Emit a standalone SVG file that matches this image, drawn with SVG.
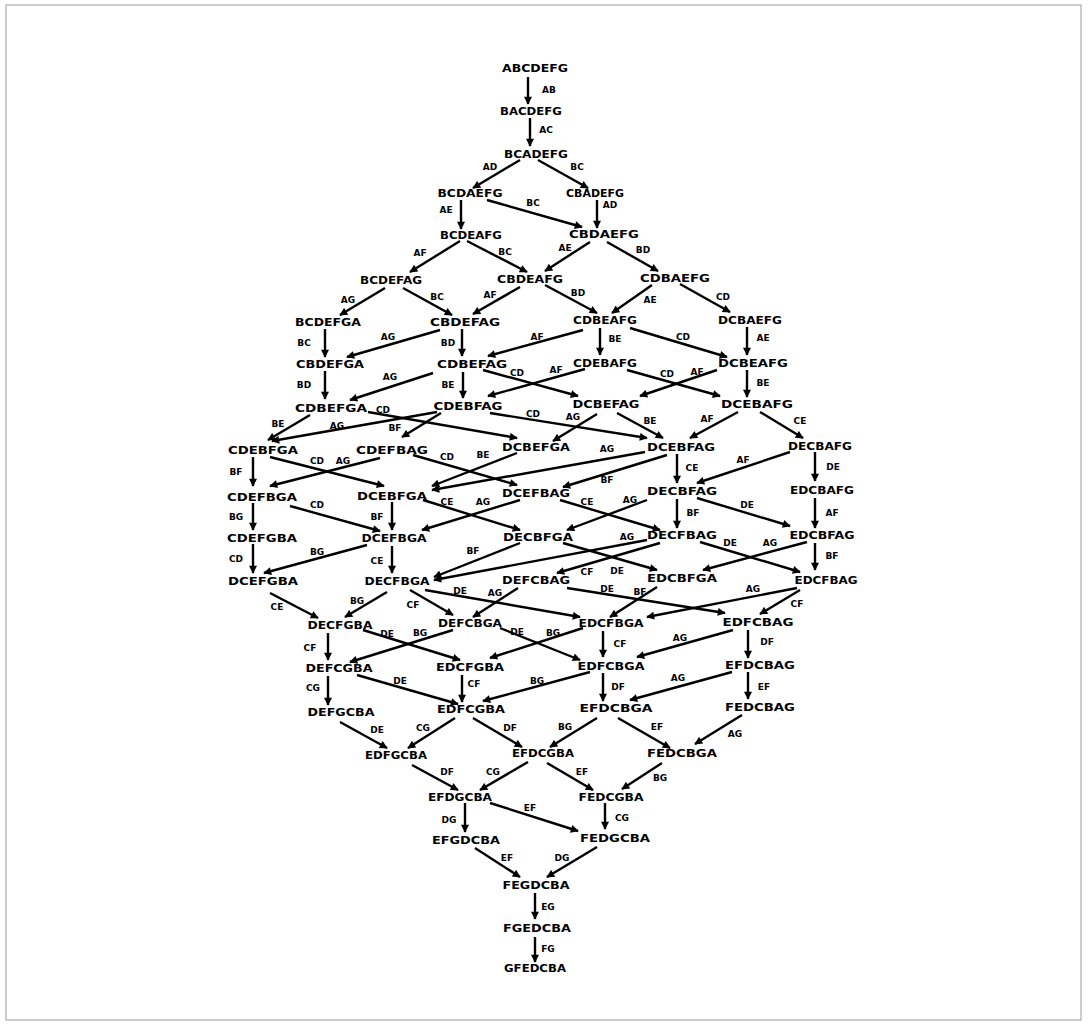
<svg xmlns="http://www.w3.org/2000/svg" width="1088" height="1026" viewBox="0 0 1088 1026">
<style>
.n text{font-family:"DejaVu Sans","Liberation Sans",sans-serif;font-weight:bold;font-size:11px;fill:#000;text-anchor:middle}
.e line{stroke:#000;stroke-width:2.4;marker-end:url(#ah)}
.e text{font-family:"DejaVu Sans","Liberation Sans",sans-serif;font-weight:bold;font-size:9px;fill:#000;text-anchor:middle}
</style>
<defs>
<marker id="ah" viewBox="0 0 10 10" refX="9" refY="5" markerWidth="10" markerHeight="8" markerUnits="userSpaceOnUse" orient="auto"><path d="M0,0 L10,5 L0,10 z" fill="#000"/></marker>
</defs>
<rect x="0" y="0" width="1088" height="1026" fill="#fff"/>
<rect x="6" y="5" width="1075" height="1015" fill="none" stroke="#999" stroke-width="1"/>
<g id="connectors" class="e">
<line x1="528" y1="77" x2="528" y2="104"/><text x="549" y="93">AB</text>
<line x1="530" y1="118" x2="530" y2="146"/><text x="546" y="133">AC</text>
<line x1="520" y1="160" x2="473" y2="188"/><text x="490" y="170">AD</text>
<line x1="538" y1="160" x2="588" y2="188"/><text x="577" y="170">BC</text>
<line x1="461" y1="200" x2="461" y2="229"/><text x="446" y="213">AE</text>
<line x1="487" y1="200" x2="582" y2="227"/><text x="533" y="206">BC</text>
<line x1="597" y1="200" x2="597" y2="228"/><text x="610" y="208">AD</text>
<line x1="460" y1="241" x2="410" y2="272"/><text x="420" y="256">AF</text>
<line x1="467" y1="241" x2="527" y2="272"/><text x="505" y="255">BC</text>
<line x1="590" y1="242" x2="545" y2="271"/><text x="565" y="251">AE</text>
<line x1="607" y1="242" x2="658" y2="271"/><text x="643" y="253">BD</text>
<line x1="385" y1="288" x2="340" y2="315"/><text x="348" y="303">AG</text>
<line x1="403" y1="288" x2="452" y2="315"/><text x="437" y="300">BC</text>
<line x1="520" y1="287" x2="473" y2="314"/><text x="490" y="298">AF</text>
<line x1="545" y1="285" x2="597" y2="313"/><text x="578" y="296">BD</text>
<line x1="652" y1="285" x2="612" y2="313"/><text x="650" y="303">AE</text>
<line x1="680" y1="284" x2="730" y2="312"/><text x="723" y="300">CD</text>
<line x1="325" y1="329" x2="325" y2="357"/><text x="304" y="346">BC</text>
<line x1="440" y1="330" x2="347" y2="357"/><text x="388" y="340">AG</text>
<line x1="462" y1="329" x2="462" y2="356"/><text x="448" y="346">BD</text>
<line x1="583" y1="330" x2="488" y2="356"/><text x="537" y="340">AF</text>
<line x1="600" y1="328" x2="600" y2="355"/><text x="615" y="342">BE</text>
<line x1="630" y1="328" x2="727" y2="357"/><text x="683" y="340">CD</text>
<line x1="747" y1="327" x2="747" y2="355"/><text x="763" y="341">AE</text>
<line x1="325" y1="371" x2="325" y2="399"/><text x="304" y="388">BD</text>
<line x1="433" y1="373" x2="350" y2="400"/><text x="390" y="380">AG</text>
<line x1="463" y1="372" x2="463" y2="398"/><text x="448" y="388">BE</text>
<line x1="483" y1="370" x2="578" y2="396"/><text x="517" y="376">CD</text>
<line x1="585" y1="369" x2="488" y2="396"/><text x="556" y="373">AF</text>
<line x1="627" y1="370" x2="720" y2="396"/><text x="667" y="377">CD</text>
<line x1="717" y1="370" x2="640" y2="396"/><text x="697" y="375">AF</text>
<line x1="747" y1="370" x2="747" y2="397"/><text x="763" y="386">BE</text>
<line x1="310" y1="415" x2="268" y2="440"/><text x="278" y="427">BE</text>
<line x1="368" y1="412" x2="517" y2="438"/><text x="383" y="413">CD</text>
<line x1="437" y1="412" x2="272" y2="441"/><text x="337" y="429">AG</text>
<line x1="441" y1="413" x2="402" y2="437"/><text x="395" y="431">BF</text>
<line x1="490" y1="413" x2="647" y2="438"/><text x="533" y="417">CD</text>
<line x1="597" y1="414" x2="553" y2="441"/><text x="573" y="420">AG</text>
<line x1="617" y1="413" x2="663" y2="438"/><text x="650" y="424">BE</text>
<line x1="738" y1="412" x2="690" y2="438"/><text x="707" y="422">AF</text>
<line x1="760" y1="412" x2="803" y2="438"/><text x="800" y="424">CE</text>
<line x1="253" y1="457" x2="253" y2="486"/><text x="236" y="475">BF</text>
<line x1="270" y1="457" x2="384" y2="486"/><text x="317" y="464">CD</text>
<line x1="380" y1="458" x2="270" y2="486"/><text x="343" y="464">AG</text>
<line x1="413" y1="455" x2="517" y2="485"/><text x="447" y="460">CD</text>
<line x1="517" y1="453" x2="432" y2="486"/><text x="483" y="458">BE</text>
<line x1="645" y1="452" x2="432" y2="490"/><text x="607" y="452">AG</text>
<line x1="667" y1="455" x2="563" y2="487"/><text x="607" y="483">BF</text>
<line x1="677" y1="454" x2="677" y2="483"/><text x="692" y="471">CE</text>
<line x1="790" y1="452" x2="697" y2="483"/><text x="743" y="463">AF</text>
<line x1="815" y1="452" x2="815" y2="481"/><text x="833" y="470">DE</text>
<line x1="253" y1="503" x2="253" y2="530"/><text x="236" y="520">BG</text>
<line x1="290" y1="506" x2="380" y2="531"/><text x="317" y="508">CD</text>
<line x1="392" y1="502" x2="392" y2="530"/><text x="377" y="520">BF</text>
<line x1="423" y1="500" x2="520" y2="530"/><text x="447" y="505">CE</text>
<line x1="520" y1="500" x2="422" y2="530"/><text x="483" y="505">AG</text>
<line x1="560" y1="500" x2="660" y2="530"/><text x="587" y="505">CE</text>
<line x1="647" y1="500" x2="567" y2="530"/><text x="630" y="503">AG</text>
<line x1="677" y1="499" x2="677" y2="528"/><text x="693" y="516">BF</text>
<line x1="697" y1="498" x2="790" y2="526"/><text x="747" y="508">DE</text>
<line x1="815" y1="498" x2="815" y2="528"/><text x="832" y="516">AF</text>
<line x1="253" y1="544" x2="253" y2="573"/><text x="236" y="562">CD</text>
<line x1="367" y1="545" x2="264" y2="573"/><text x="317" y="555">BG</text>
<line x1="392" y1="546" x2="392" y2="573"/><text x="377" y="564">CE</text>
<line x1="520" y1="543" x2="434" y2="577"/><text x="473" y="554">BF</text>
<line x1="647" y1="540" x2="434" y2="580"/><text x="627" y="540">AG</text>
<line x1="563" y1="543" x2="657" y2="570"/><text x="617" y="574">DE</text>
<line x1="660" y1="543" x2="557" y2="573"/><text x="587" y="575">CF</text>
<line x1="700" y1="542" x2="800" y2="572"/><text x="730" y="546">DE</text>
<line x1="807" y1="542" x2="703" y2="570"/><text x="770" y="546">AG</text>
<line x1="815" y1="543" x2="815" y2="570"/><text x="832" y="559">BF</text>
<line x1="270" y1="593" x2="318" y2="618"/><text x="277" y="610">CE</text>
<line x1="387" y1="592" x2="345" y2="617"/><text x="357" y="604">BG</text>
<line x1="410" y1="590" x2="453" y2="615"/><text x="413" y="608">CF</text>
<line x1="425" y1="590" x2="580" y2="617"/><text x="460" y="594">DE</text>
<line x1="518" y1="588" x2="473" y2="617"/><text x="495" y="596">AG</text>
<line x1="567" y1="588" x2="725" y2="613"/><text x="607" y="592">DE</text>
<line x1="657" y1="587" x2="610" y2="617"/><text x="640" y="595">BF</text>
<line x1="797" y1="588" x2="647" y2="617"/><text x="753" y="592">AG</text>
<line x1="800" y1="590" x2="760" y2="614"/><text x="797" y="607">CF</text>
<line x1="328" y1="633" x2="328" y2="660"/><text x="310" y="651">CF</text>
<line x1="363" y1="630" x2="460" y2="660"/><text x="387" y="637">DE</text>
<line x1="453" y1="630" x2="350" y2="662"/><text x="420" y="636">BG</text>
<line x1="500" y1="628" x2="580" y2="660"/><text x="517" y="635">DE</text>
<line x1="583" y1="628" x2="490" y2="658"/><text x="553" y="636">BG</text>
<line x1="603" y1="631" x2="603" y2="657"/><text x="620" y="647">CF</text>
<line x1="733" y1="630" x2="637" y2="657"/><text x="680" y="641">AG</text>
<line x1="748" y1="630" x2="748" y2="658"/><text x="767" y="645">DF</text>
<line x1="328" y1="676" x2="328" y2="705"/><text x="313" y="691">CG</text>
<line x1="357" y1="675" x2="458" y2="704"/><text x="400" y="684">DE</text>
<line x1="462" y1="675" x2="462" y2="702"/><text x="474" y="687">CF</text>
<line x1="590" y1="672" x2="483" y2="701"/><text x="537" y="684">BG</text>
<line x1="603" y1="673" x2="603" y2="701"/><text x="618" y="690">DF</text>
<line x1="732" y1="672" x2="630" y2="700"/><text x="678" y="681">AG</text>
<line x1="748" y1="672" x2="748" y2="699"/><text x="764" y="690">EF</text>
<line x1="340" y1="722" x2="387" y2="748"/><text x="377" y="733">DE</text>
<line x1="455" y1="718" x2="408" y2="748"/><text x="423" y="731">CG</text>
<line x1="473" y1="718" x2="522" y2="747"/><text x="510" y="731">DF</text>
<line x1="597" y1="718" x2="550" y2="747"/><text x="565" y="730">BG</text>
<line x1="618" y1="718" x2="670" y2="748"/><text x="657" y="730">EF</text>
<line x1="742" y1="715" x2="695" y2="744"/><text x="735" y="737">AG</text>
<line x1="412" y1="765" x2="458" y2="790"/><text x="447" y="775">DF</text>
<line x1="528" y1="762" x2="480" y2="790"/><text x="493" y="775">CG</text>
<line x1="547" y1="763" x2="593" y2="790"/><text x="582" y="775">EF</text>
<line x1="662" y1="763" x2="622" y2="789"/><text x="660" y="781">BG</text>
<line x1="465" y1="803" x2="465" y2="832"/><text x="449" y="823">DG</text>
<line x1="490" y1="803" x2="578" y2="831"/><text x="530" y="811">EF</text>
<line x1="605" y1="803" x2="605" y2="829"/><text x="622" y="821">CG</text>
<line x1="475" y1="848" x2="520" y2="877"/><text x="507" y="861">EF</text>
<line x1="597" y1="847" x2="547" y2="877"/><text x="562" y="861">DG</text>
<line x1="535" y1="893" x2="535" y2="919"/><text x="548" y="910">EG</text>
<line x1="535" y1="937" x2="535" y2="962"/><text x="548" y="952">FG</text>
</g>
<g class="n">
<g id="n-ABCDEFG"><text x="535" y="72" textLength="66" lengthAdjust="spacingAndGlyphs">ABCDEFG</text></g>
<g id="n-BACDEFG"><text x="531" y="115" textLength="62" lengthAdjust="spacingAndGlyphs">BACDEFG</text></g>
<g id="n-BCADEFG"><text x="536" y="158" textLength="64" lengthAdjust="spacingAndGlyphs">BCADEFG</text></g>
<g id="n-BCDAEFG"><text x="470" y="197" textLength="65" lengthAdjust="spacingAndGlyphs">BCDAEFG</text></g>
<g id="n-CBADEFG"><text x="595" y="197" textLength="58" lengthAdjust="spacingAndGlyphs">CBADEFG</text></g>
<g id="n-BCDEAFG"><text x="471" y="239" textLength="62" lengthAdjust="spacingAndGlyphs">BCDEAFG</text></g>
<g id="n-CBDAEFG"><text x="604" y="238" textLength="70" lengthAdjust="spacingAndGlyphs">CBDAEFG</text></g>
<g id="n-BCDEFAG"><text x="391" y="284" textLength="62" lengthAdjust="spacingAndGlyphs">BCDEFAG</text></g>
<g id="n-CBDEAFG"><text x="530" y="283" textLength="66" lengthAdjust="spacingAndGlyphs">CBDEAFG</text></g>
<g id="n-CDBAEFG"><text x="675" y="282" textLength="70" lengthAdjust="spacingAndGlyphs">CDBAEFG</text></g>
<g id="n-BCDEFGA"><text x="328" y="326" textLength="66" lengthAdjust="spacingAndGlyphs">BCDEFGA</text></g>
<g id="n-CBDEFAG"><text x="465" y="326" textLength="70" lengthAdjust="spacingAndGlyphs">CBDEFAG</text></g>
<g id="n-CDBEAFG"><text x="605" y="324" textLength="64" lengthAdjust="spacingAndGlyphs">CDBEAFG</text></g>
<g id="n-DCBAEFG"><text x="750" y="324" textLength="64" lengthAdjust="spacingAndGlyphs">DCBAEFG</text></g>
<g id="n-CBDEFGA"><text x="330" y="368" textLength="68" lengthAdjust="spacingAndGlyphs">CBDEFGA</text></g>
<g id="n-CDBEFAG"><text x="472" y="368" textLength="70" lengthAdjust="spacingAndGlyphs">CDBEFAG</text></g>
<g id="n-CDEBAFG"><text x="605" y="367" textLength="64" lengthAdjust="spacingAndGlyphs">CDEBAFG</text></g>
<g id="n-DCBEAFG"><text x="753" y="367" textLength="70" lengthAdjust="spacingAndGlyphs">DCBEAFG</text></g>
<g id="n-CDBEFGA"><text x="331" y="412" textLength="72" lengthAdjust="spacingAndGlyphs">CDBEFGA</text></g>
<g id="n-CDEBFAG"><text x="468" y="410" textLength="69" lengthAdjust="spacingAndGlyphs">CDEBFAG</text></g>
<g id="n-DCBEFAG"><text x="606" y="408" textLength="67" lengthAdjust="spacingAndGlyphs">DCBEFAG</text></g>
<g id="n-DCEBAFG"><text x="757" y="408" textLength="72" lengthAdjust="spacingAndGlyphs">DCEBAFG</text></g>
<g id="n-CDEBFGA"><text x="263" y="454" textLength="70" lengthAdjust="spacingAndGlyphs">CDEBFGA</text></g>
<g id="n-CDEFBAG"><text x="392" y="454" textLength="72" lengthAdjust="spacingAndGlyphs">CDEFBAG</text></g>
<g id="n-DCBEFGA"><text x="536" y="451" textLength="68" lengthAdjust="spacingAndGlyphs">DCBEFGA</text></g>
<g id="n-DCEBFAG"><text x="681" y="451" textLength="68" lengthAdjust="spacingAndGlyphs">DCEBFAG</text></g>
<g id="n-DECBAFG"><text x="820" y="450" textLength="64" lengthAdjust="spacingAndGlyphs">DECBAFG</text></g>
<g id="n-CDEFBGA"><text x="262" y="501" textLength="70" lengthAdjust="spacingAndGlyphs">CDEFBGA</text></g>
<g id="n-DCEBFGA"><text x="392" y="500" textLength="70" lengthAdjust="spacingAndGlyphs">DCEBFGA</text></g>
<g id="n-DCEFBAG"><text x="536" y="497" textLength="68" lengthAdjust="spacingAndGlyphs">DCEFBAG</text></g>
<g id="n-DECBFAG"><text x="682" y="495" textLength="70" lengthAdjust="spacingAndGlyphs">DECBFAG</text></g>
<g id="n-EDCBAFG"><text x="822" y="494" textLength="64" lengthAdjust="spacingAndGlyphs">EDCBAFG</text></g>
<g id="n-CDEFGBA"><text x="262" y="542" textLength="70" lengthAdjust="spacingAndGlyphs">CDEFGBA</text></g>
<g id="n-DCEFBGA"><text x="394" y="542" textLength="65" lengthAdjust="spacingAndGlyphs">DCEFBGA</text></g>
<g id="n-DECBFGA"><text x="538" y="541" textLength="70" lengthAdjust="spacingAndGlyphs">DECBFGA</text></g>
<g id="n-DECFBAG"><text x="682" y="539" textLength="70" lengthAdjust="spacingAndGlyphs">DECFBAG</text></g>
<g id="n-EDCBFAG"><text x="822" y="539" textLength="65" lengthAdjust="spacingAndGlyphs">EDCBFAG</text></g>
<g id="n-DCEFGBA"><text x="263" y="585" textLength="70" lengthAdjust="spacingAndGlyphs">DCEFGBA</text></g>
<g id="n-DECFBGA"><text x="397" y="585" textLength="65" lengthAdjust="spacingAndGlyphs">DECFBGA</text></g>
<g id="n-DEFCBAG"><text x="536" y="584" textLength="68" lengthAdjust="spacingAndGlyphs">DEFCBAG</text></g>
<g id="n-EDCBFGA"><text x="682" y="582" textLength="70" lengthAdjust="spacingAndGlyphs">EDCBFGA</text></g>
<g id="n-EDCFBAG"><text x="826" y="584" textLength="63" lengthAdjust="spacingAndGlyphs">EDCFBAG</text></g>
<g id="n-DECFGBA"><text x="340" y="629" textLength="65" lengthAdjust="spacingAndGlyphs">DECFGBA</text></g>
<g id="n-DEFCBGA"><text x="470" y="627" textLength="64" lengthAdjust="spacingAndGlyphs">DEFCBGA</text></g>
<g id="n-EDCFBGA"><text x="611" y="627" textLength="65" lengthAdjust="spacingAndGlyphs">EDCFBGA</text></g>
<g id="n-EDFCBAG"><text x="758" y="626" textLength="71" lengthAdjust="spacingAndGlyphs">EDFCBAG</text></g>
<g id="n-DEFCGBA"><text x="339" y="672" textLength="67" lengthAdjust="spacingAndGlyphs">DEFCGBA</text></g>
<g id="n-EDCFGBA"><text x="470" y="671" textLength="68" lengthAdjust="spacingAndGlyphs">EDCFGBA</text></g>
<g id="n-EDFCBGA"><text x="611" y="670" textLength="67" lengthAdjust="spacingAndGlyphs">EDFCBGA</text></g>
<g id="n-EFDCBAG"><text x="760" y="669" textLength="70" lengthAdjust="spacingAndGlyphs">EFDCBAG</text></g>
<g id="n-DEFGCBA"><text x="341" y="716" textLength="67" lengthAdjust="spacingAndGlyphs">DEFGCBA</text></g>
<g id="n-EDFCGBA"><text x="471" y="713" textLength="68" lengthAdjust="spacingAndGlyphs">EDFCGBA</text></g>
<g id="n-EFDCBGA"><text x="616" y="712" textLength="73" lengthAdjust="spacingAndGlyphs">EFDCBGA</text></g>
<g id="n-FEDCBAG"><text x="760" y="711" textLength="70" lengthAdjust="spacingAndGlyphs">FEDCBAG</text></g>
<g id="n-EDFGCBA"><text x="396" y="759" textLength="62" lengthAdjust="spacingAndGlyphs">EDFGCBA</text></g>
<g id="n-EFDCGBA"><text x="543" y="757" textLength="62" lengthAdjust="spacingAndGlyphs">EFDCGBA</text></g>
<g id="n-FEDCBGA"><text x="682" y="757" textLength="70" lengthAdjust="spacingAndGlyphs">FEDCBGA</text></g>
<g id="n-EFDGCBA"><text x="460" y="801" textLength="64" lengthAdjust="spacingAndGlyphs">EFDGCBA</text></g>
<g id="n-FEDCGBA"><text x="611" y="801" textLength="65" lengthAdjust="spacingAndGlyphs">FEDCGBA</text></g>
<g id="n-EFGDCBA"><text x="466" y="844" textLength="68" lengthAdjust="spacingAndGlyphs">EFGDCBA</text></g>
<g id="n-FEDGCBA"><text x="615" y="842" textLength="70" lengthAdjust="spacingAndGlyphs">FEDGCBA</text></g>
<g id="n-FEGDCBA"><text x="536" y="889" textLength="67" lengthAdjust="spacingAndGlyphs">FEGDCBA</text></g>
<g id="n-FGEDCBA"><text x="537" y="932" textLength="68" lengthAdjust="spacingAndGlyphs">FGEDCBA</text></g>
<g id="n-GFEDCBA"><text x="535" y="972" textLength="62" lengthAdjust="spacingAndGlyphs">GFEDCBA</text></g>
</g>
</svg>
